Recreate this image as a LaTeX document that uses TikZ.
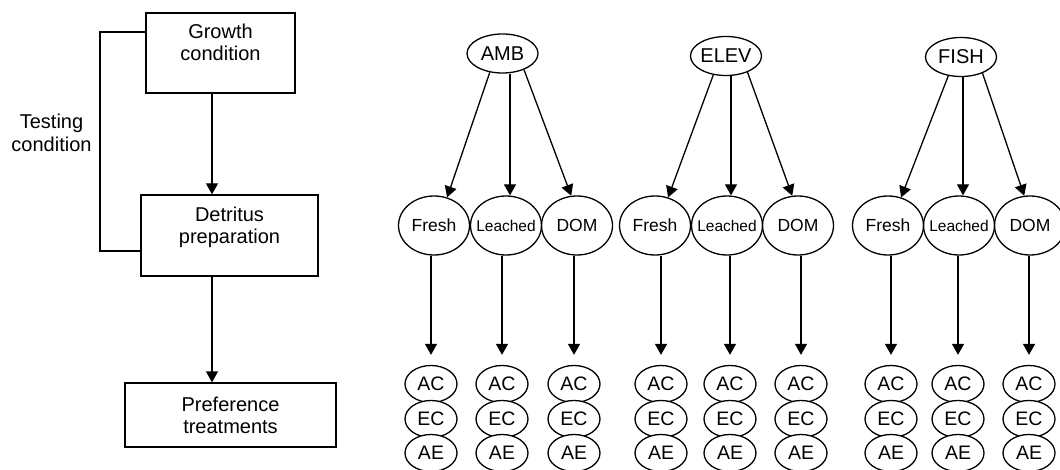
\documentclass[tikz,border=0pt]{standalone}
\usepackage{fontspec}
\setmainfont{Liberation Sans}
\usetikzlibrary{shapes.geometric,arrows.meta,calc}
\begin{document}
\begin{tikzpicture}[x=1pt,y=-1pt,
  lw/.style={line width=1.3pt},
  arr/.style={lw,-{Triangle[length=11pt,width=12pt]}},
  box/.style={draw,lw,rectangle,inner sep=0pt},
  boxtxt/.style={font=\fontsize{20}{22.5}\selectfont, align=center, inner sep=0pt, anchor=north},
  topell/.style={draw,lw,ellipse,inner sep=0pt,minimum width=71pt,minimum height=39pt},
  midell/.style={draw,lw,ellipse,inner sep=0pt,minimum width=71pt,minimum height=59pt},
  smell/.style={draw,lw,ellipse,inner sep=0pt,minimum width=52pt,minimum height=37pt,fill=white},
  toplbl/.style={font=\fontsize{20}{22}\selectfont,inner sep=0pt},
  midlbl/.style={font=\fontsize{17.5}{20}\selectfont,inner sep=0pt},
  leachlbl/.style={font=\fontsize{15.5}{18}\selectfont,inner sep=0pt},
  smlbl/.style={font=\fontsize{19.5}{22}\selectfont,inner sep=0pt}
]
\useasboundingbox (0,0) rectangle (1060,470);

% left flow chart
\node[box, minimum width=149pt, minimum height=80pt] (g) at (220.5,53) {};
\node[boxtxt] (gt) at (220.5,23.5) {Growth\\condition};
\node[box, minimum width=177pt, minimum height=81pt] (d) at (229.5,235.5) {};
\node[boxtxt] (dt) at (229.5,206.5) {Detritus\\preparation};
\node[box, minimum width=211pt, minimum height=64pt] (p) at (230.5,415) {};
\node[boxtxt] (pt) at (230.5,396.5) {Preference\\treatments};
\node[font=\fontsize{20}{22.5}\selectfont, align=center, inner sep=0pt] (tc) at (51.5,133) {Testing\\condition};

\coordinate (bt) at (100,32);
\coordinate (bb) at (100,251);
\draw[lw] (g.west |- bt) -- (bt) -- (bb) -- (d.west |- bb);

\coordinate (ax) at (212,0);
\draw[arr] (g.south -| ax) -- (d.north -| ax);
\draw[arr] (d.south -| ax) -- (p.north -| ax);

% trees
\foreach \g/\lab/\tx/\ty/\fx/\lx/\mx/\ca/\cb/\cc in
  {1/AMB/502.5/53.5/434/506/577/431/502/574,
   2/ELEV/726/56/655/727/798/661/730/801,
   3/FISH/961/57/888/959/1030/891/958/1029}{
  \node[topell, label={[toplbl]center:\lab}] (t\g) at (\tx,\ty) {};
  \node[midell, label={[midlbl]center:Fresh}] (f\g) at (\fx,225.5) {};
  \node[midell, label={[leachlbl]center:Leached}] (l\g) at (\lx,225.5) {};
  \node[midell, label={[midlbl]center:DOM}] (m\g) at (\mx,225.5) {};
  \draw[arr] (t\g.-124) -- (f\g.65);
  \draw[arr] ([xshift=4pt]l\g.north |- t\g.south) -- ([xshift=4pt]l\g.north);
  \draw[arr] (t\g.-37) -- (m\g.101);
  \foreach \k/\x in {f/\ca, l/\cb, m/\cc}{
    \node[smell, label={[smlbl]center:AC}] (\k\g-ac) at (\x,384) {};
    \node[smell, label={[smlbl]center:EC}] (\k\g-ec) at (\x,419) {};
    \node[smell, label={[smlbl]center:AE}] (\k\g-ae) at (\x,453) {};
    \draw[arr] (\k\g-ac.north |- \k\g.south) -- ([yshift=10pt]\k\g-ac.north);
  }
}
\end{tikzpicture}
\end{document}
